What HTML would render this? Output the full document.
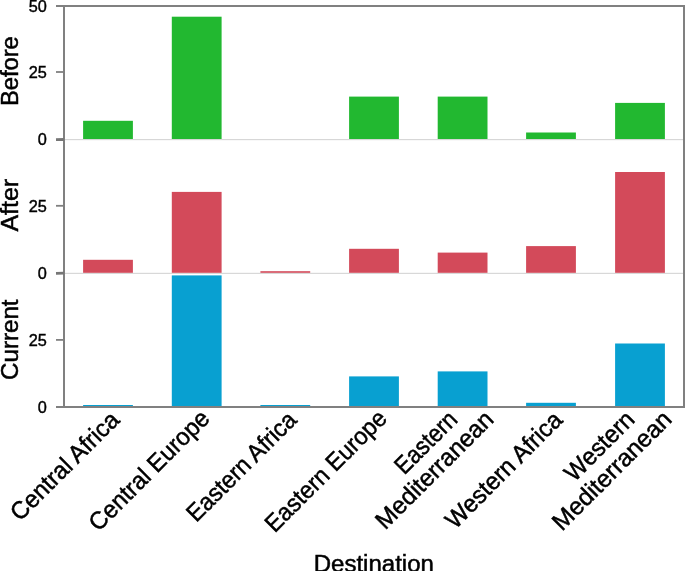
<!DOCTYPE html>
<html><head><meta charset="utf-8"><title>Chart</title>
<style>html,body{margin:0;padding:0;background:#fff;}svg{display:block;will-change:transform;}text{font-family:"Liberation Sans",sans-serif;fill:#000;stroke:#000;stroke-width:0.42px;}text.b{stroke-width:0.5px;}</style></head>
<body>

<svg width="685" height="571" viewBox="0 0 685 571">
<rect x="0" y="0" width="685" height="571" fill="#ffffff"/>
<line x1="64" x2="684" y1="139.67" y2="139.67" stroke="#d0d0d0" stroke-width="1"/>
<line x1="64" x2="684" y1="273.33" y2="273.33" stroke="#d0d0d0" stroke-width="1"/>
<rect x="83.10" y="120.80" width="49.8" height="18.20" fill="#22b830"/>
<rect x="171.80" y="16.70" width="49.8" height="122.30" fill="#22b830"/>
<rect x="349.10" y="96.60" width="49.8" height="42.40" fill="#22b830"/>
<rect x="437.70" y="96.60" width="49.8" height="42.40" fill="#22b830"/>
<rect x="526.10" y="132.50" width="49.8" height="6.50" fill="#22b830"/>
<rect x="615.10" y="102.90" width="49.8" height="36.10" fill="#22b830"/>
<rect x="83.10" y="259.80" width="49.8" height="13.00" fill="#d34a5a"/>
<rect x="171.80" y="191.90" width="49.8" height="80.90" fill="#d34a5a"/>
<rect x="260.40" y="271.20" width="49.8" height="1.60" fill="#d34a5a"/>
<rect x="349.10" y="248.80" width="49.8" height="24.00" fill="#d34a5a"/>
<rect x="437.70" y="252.60" width="49.8" height="20.20" fill="#d34a5a"/>
<rect x="526.10" y="246.10" width="49.8" height="26.70" fill="#d34a5a"/>
<rect x="615.10" y="172.00" width="49.8" height="100.80" fill="#d34a5a"/>
<rect x="83.10" y="405.00" width="49.8" height="2.00" fill="#08a0d1"/>
<rect x="171.80" y="275.40" width="49.8" height="131.60" fill="#08a0d1"/>
<rect x="260.40" y="405.00" width="49.8" height="2.00" fill="#08a0d1"/>
<rect x="349.10" y="376.40" width="49.8" height="30.60" fill="#08a0d1"/>
<rect x="437.70" y="371.40" width="49.8" height="35.60" fill="#08a0d1"/>
<rect x="526.10" y="402.80" width="49.8" height="4.20" fill="#08a0d1"/>
<rect x="615.10" y="343.50" width="49.8" height="63.50" fill="#08a0d1"/>
<path d="M56 6 H684 V407 H56 M64 6 V407" fill="none" stroke="#808080" stroke-width="2"/>
<line x1="56" x2="64" y1="72.00" y2="72.00" stroke="#808080" stroke-width="1.8"/>
<line x1="56" x2="64" y1="205.80" y2="205.80" stroke="#808080" stroke-width="1.8"/>
<line x1="56" x2="64" y1="339.90" y2="339.90" stroke="#808080" stroke-width="1.8"/>
<line x1="56" x2="64" y1="139.67" y2="139.47" stroke="#767676" stroke-width="2.9"/>
<line x1="56" x2="64" y1="273.33" y2="273.13" stroke="#767676" stroke-width="2.9"/>
<text x="46.9" y="11.60" font-size="16.3" text-anchor="end">50</text>
<text x="46.9" y="77.93" font-size="16.3" text-anchor="end">25</text>
<text x="46.9" y="145.27" font-size="16.3" text-anchor="end">0</text>
<text x="46.9" y="211.60" font-size="16.3" text-anchor="end">25</text>
<text x="46.9" y="278.93" font-size="16.3" text-anchor="end">0</text>
<text x="46.9" y="346.07" font-size="16.3" text-anchor="end">25</text>
<text x="46.9" y="412.60" font-size="16.3" text-anchor="end">0</text>
<text transform="translate(18.4 106.1) rotate(-90)" class="b" font-size="23.5" textLength="69.9" lengthAdjust="spacingAndGlyphs">Before</text>
<text transform="translate(18.4 231.6) rotate(-90)" class="b" font-size="23.5" textLength="52.7" lengthAdjust="spacingAndGlyphs">After</text>
<text transform="translate(18.4 380.0) rotate(-90)" class="b" font-size="23.5" textLength="80.6" lengthAdjust="spacingAndGlyphs">Current</text>
<text class="b" x="313.7" y="572.0" font-size="23.5" textLength="120.2" lengthAdjust="spacingAndGlyphs">Destination</text>
<text class="b" transform="translate(120.70 421.40) rotate(-45)" font-size="24.5" text-anchor="end" textLength="142.3" lengthAdjust="spacingAndGlyphs">Central Africa</text>
<text class="b" transform="translate(210.96 419.84) rotate(-45)" font-size="24.5" text-anchor="end" textLength="158.9" lengthAdjust="spacingAndGlyphs">Central Europe</text>
<text class="b" transform="translate(298.00 421.40) rotate(-45)" font-size="24.5" text-anchor="end" textLength="143.8" lengthAdjust="spacingAndGlyphs">Eastern Africa</text>
<text class="b" transform="translate(388.26 419.84) rotate(-45)" font-size="24.5" text-anchor="end" textLength="160.7" lengthAdjust="spacingAndGlyphs">Eastern Europe</text>
<text class="b" transform="translate(458.74 421.06) rotate(-45)" font-size="24.5" text-anchor="end" textLength="77.0" lengthAdjust="spacingAndGlyphs">Eastern</text>
<text class="b" transform="translate(495.04 420.76) rotate(-45)" font-size="24.5" text-anchor="end" textLength="155.1" lengthAdjust="spacingAndGlyphs">Mediterranean</text>
<text class="b" transform="translate(563.70 421.40) rotate(-45)" font-size="24.5" text-anchor="end" textLength="153.5" lengthAdjust="spacingAndGlyphs">Western Africa</text>
<text class="b" transform="translate(635.94 421.06) rotate(-45)" font-size="24.5" text-anchor="end" textLength="87.1" lengthAdjust="spacingAndGlyphs">Western</text>
<text class="b" transform="translate(673.04 420.76) rotate(-45)" font-size="24.5" text-anchor="end" textLength="156.9" lengthAdjust="spacingAndGlyphs">Mediterranean</text>
</svg>
</body></html>
